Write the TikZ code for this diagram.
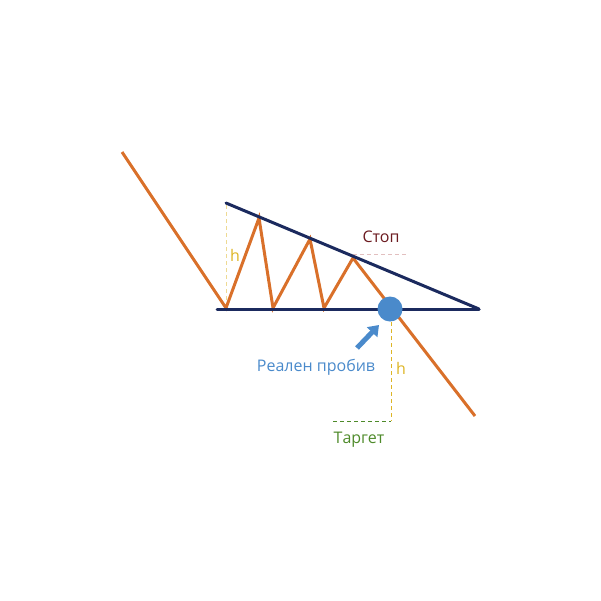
\documentclass[tikz,border=0pt]{standalone}
\usepackage{fontspec}
\setmainfont{Open Sans}
\usetikzlibrary{arrows.meta}
\definecolor{orng}{HTML}{D9702A}
\definecolor{navy}{HTML}{1B2A5E}
\definecolor{blu}{HTML}{4A8ACB}
\definecolor{yel}{HTML}{DDB526}
\definecolor{dred}{HTML}{6B1A1F}
\definecolor{grn}{HTML}{4E8A2A}
\definecolor{pnk}{HTML}{E2BFBF}
\tikzset{
  price/.style={orng, line width=3pt, line join=miter},
  trend/.style={navy, line width=3pt, line cap=round},
  guide/.style={dashed, line width=0.9pt, dash pattern=on 4pt off 3pt},
  lbl/.style={font=\fontsize{16}{19}\selectfont, inner sep=0pt}
}
\begin{document}
\begin{tikzpicture}[x=1pt,y=-1pt]
\useasboundingbox (0,0) rectangle (601,600);
\coordinate (p0) at (122,152);
\coordinate (p1) at (226,308);
\coordinate (p2) at (259,218);
\coordinate (p3) at (273,308);
\coordinate (p4) at (310,239);
\coordinate (p5) at (324,308);
\coordinate (p6) at (353,258);
\coordinate (p7) at (475,416);
\coordinate (t0) at (226,203);
\coordinate (t1) at (479,309);
\coordinate (b0) at (217,309);
% guides
\draw[guide, yel!50] (226,205) -- (226,306);
\draw[guide, pnk] (353,254) -- (408,254);
\draw[guide, yel] (391,322) -- (391,421);
\draw[guide, grn] (333,421) -- (391,421);
% price path
\draw[price] (p0) -- (p1) -- (p2) -- (p3) -- (p4) -- (p5) -- (p6) -- (p7);
% trend lines
\draw[trend] (t0) -- (t1);
\draw[trend] (b0) -- (t1);
% breakout
\node[circle, fill=blu, minimum size=25pt, inner sep=0pt] (brk) at (390,309) {};
\draw[blu, line width=5pt, -{Triangle[length=10pt,width=14pt]}] (357,348) -- (379,325);
% labels
\node[lbl, text=yel] (h1) at (235,255) {h};
\node[lbl, text=yel] (h2) at (401,368) {h};
\node[lbl, text=dred] (stop) at (381,237) {Стоп};
\node[lbl, text=blu] (real) at (316,367) {Реален пробив};
\node[lbl, text=grn] (tgt) at (359,440) {Таргет};
\end{tikzpicture}
\end{document}
